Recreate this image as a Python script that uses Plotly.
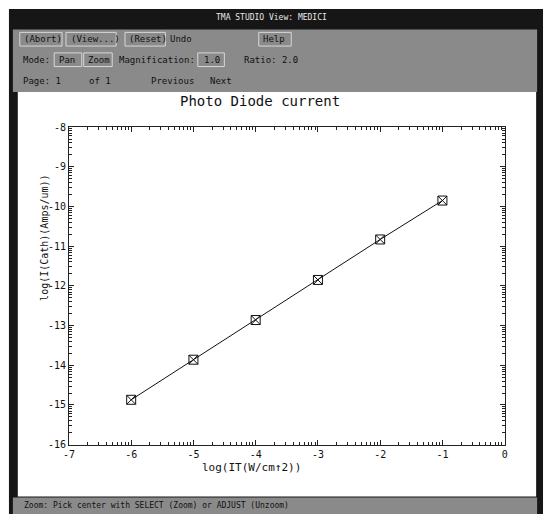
import math
import plotly.graph_objects as go

# ---- data ----
log_irradiance = [-6, -5, -4, -3, -2, -1]
log_cathode_current = [-14.87, -13.86, -12.86, -11.85, -10.83, -9.85]

x_tick_vals = [-7, -6, -5, -4, -3, -2, -1, 0]
x_tick_text = ["-7", "-6", "-5", "-4", "-3", "-2", "-1", "0"]
y_tick_vals = [-16, -15, -14, -13, -12, -11, -10, -9, -8]
y_tick_text = ["-16", "-15", "-14", "-13", "-12", "-11", "-10", "-9", "-8"]

title_text = "Photo Diode current"
x_title = "log(IT(W/cm\u21912))"
y_title = "log(I(Cath)(Amps/um))"
window_title = "TMA STUDIO View: MEDICI"
status_text = "Zoom: Pick center with SELECT (Zoom) or ADJUST (Unzoom)"

W, H = 547, 520
MONO = "DejaVu Sans Mono, Liberation Mono, monospace"


def px(x):
    return x / W


def py(y):
    return 1 - y / H


def log_minor(lo, hi):
    vals = []
    for n in range(lo, hi):
        for k in range(2, 10):
            vals.append(n + math.log10(k))
    return vals


fig = go.Figure()
fig.add_trace(go.Scatter(
    x=log_irradiance, y=log_cathode_current, mode="lines+markers",
    line=dict(color="#111111", width=1),
    marker=dict(symbol="square-x-open", size=9, color="#111111",
                line=dict(width=1, color="#111111")),
    showlegend=False, hoverinfo="skip"))

axis_common = dict(
    showgrid=False, zeroline=False, showline=True, linecolor="#222222",
    linewidth=1, mirror="ticks", ticks="inside", ticklen=5, tickwidth=1,
    tickcolor="#222222", tickfont=dict(family=MONO, size=10, color="#111111"),
    tickmode="array",
)

fig.update_xaxes(
    range=[-7, 0], domain=[px(64), px(507)], tickvals=x_tick_vals,
    ticktext=x_tick_text,
    minor=dict(tickvals=log_minor(-7, 0), ticks="inside", ticklen=3,
               tickcolor="#222222", tickwidth=1),
    **axis_common)
fig.update_yaxes(
    range=[-16, -8], domain=[py(449), py(124)], tickvals=y_tick_vals,
    ticktext=y_tick_text,
    minor=dict(tickvals=log_minor(-16, -8), ticks="inside", ticklen=3,
               tickcolor="#222222", tickwidth=1),
    **axis_common)

shapes = []
# window chrome
shapes.append(dict(type="rect", xref="paper", yref="paper", x0=px(3), x1=px(546),
                   y0=py(520), y1=py(3), fillcolor="#161616", line=dict(width=0),
                   layer="below"))
shapes.append(dict(type="rect", xref="paper", yref="paper", x0=px(7), x1=px(540),
                   y0=py(88), y1=py(24), fillcolor="#8a8a8a", line=dict(width=0),
                   layer="below"))
shapes.append(dict(type="rect", xref="paper", yref="paper", x0=px(7), x1=px(540),
                   y0=py(520), y1=py(503), fillcolor="#8a8a8a", line=dict(width=0),
                   layer="below"))
shapes.append(dict(type="rect", xref="paper", yref="paper", x0=px(12), x1=px(539),
                   y0=py(502), y1=py(88), fillcolor="#ffffff", line=dict(width=0),
                   layer="below"))
# buttons
for x0, x1, y0, y1 in [(14, 57, 27, 41), (61, 112, 27, 41), (121, 162, 27, 41),
                       (257, 290, 27, 41), (49, 77, 48, 62), (79, 108, 48, 62),
                       (195, 222, 48, 62)]:
    shapes.append(dict(type="rect", xref="paper", yref="paper", x0=px(x0), x1=px(x1),
                       y0=py(y1), y1=py(y0), fillcolor="rgba(0,0,0,0)",
                       line=dict(width=1, color="#d8d8d8"), layer="below"))

annotations = []


def txt(x, y, s, size=9, color="#111111", anchor="left", **kw):
    annotations.append(dict(xref="paper", yref="paper", x=px(x), y=py(y), text=s,
                            showarrow=False, xanchor=anchor, yanchor="middle",
                            font=dict(family=MONO, size=size, color=color), **kw))


txt(270, 12, window_title, size=8, color="#e8e8e8", anchor="center")
txt(16, 34, "(Abort)")
txt(64, 34, "(View...)")
txt(123, 34, "(Reset)")
txt(165, 34, "Undo")
txt(259, 34, "Help")
txt(15, 55, "Mode:")
txt(52, 55, "Pan")
txt(81, 55, "Zoom")
txt(113, 55, "Magnification:")
txt(199, 55, "1.0")
txt(240, 55, "Ratio: 2.0")
txt(15, 77, "Page: 1")
txt(82, 77, "of 1")
txt(145, 77, "Previous")
txt(205, 77, "Next")
txt(16, 511, status_text, size=8)

txt(258, 97, title_text, size=14, anchor="center")
txt(250, 472, x_title, size=11, anchor="center")
annotations.append(dict(xref="paper", yref="paper", x=px(39), y=py(237), text=y_title,
                        showarrow=False, textangle=-90, xanchor="center",
                        yanchor="middle",
                        font=dict(family=MONO, size=10, color="#111111")))

fig.update_layout(
    width=W, height=H, autosize=False,
    margin=dict(l=0, r=0, t=0, b=0, pad=0),
    paper_bgcolor="#ffffff", plot_bgcolor="#ffffff",
    shapes=shapes, annotations=annotations,
)

fig.write_html(
    "out.html",
    config={"displayModeBar": False},
    post_script="document.body.style.margin='0';document.body.style.overflow='hidden';",
)
